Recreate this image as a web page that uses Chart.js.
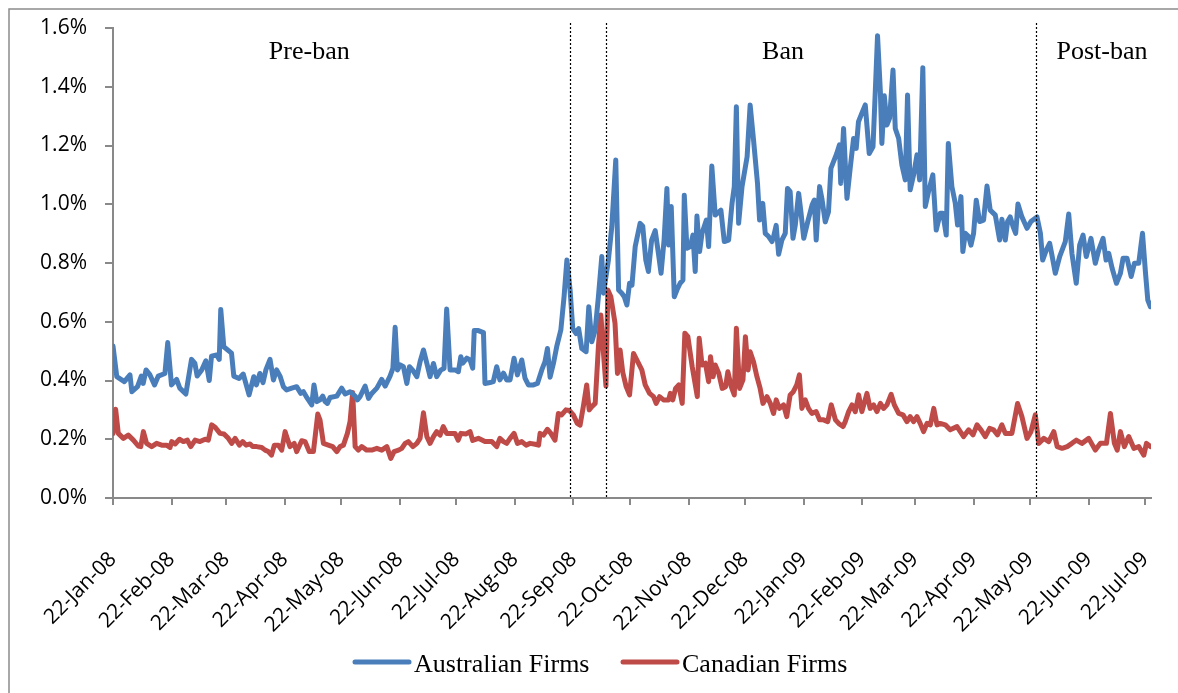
<!DOCTYPE html>
<html>
<head>
<meta charset="utf-8">
<script src="https://cdn.jsdelivr.net/npm/chart.js@4"></script>
<style>
  body { margin: 0; background: #fff; }
  #wrap { position: relative; width: 1178px; height: 693px; }
</style>
</head>
<body>
<div id="wrap"><canvas id="chartContainer" width="1178" height="693"></canvas></div>
<script>
"use strict";

// 1: data
// x values are days counted from 22-Jan-08, y values are percent
let ausDays = [0,2,6,9,10,13,15,16,17.5,19.6,22,24,27.5,29,31,33.7,35.4,38.6,41.6,43.4,44.6,47,49.2,51,52.2,54.9,56.3,57.1,58.7,62.8,64,66.8,69,72.1,74.6,76,77.8,79.5,81,
  83.2,85,86.7,88.5,90.3,92,94.7,97.3,99.5,100.9,103,105.3,106.5,108,109.7,111.1,112.4,113.6,115,118.6,121.2,123,125.6,128.3,129.5,130.9,133.6,135.4,137.1,139.8,142.4,144.2,146.8,148.3,149.5,150.7,152.2,153.9,155.7,157.1,158.9,161,162.7,164.5,166.3,168,169.8,171.5,173.7,175.4,176.8,
  178.6,181.3,183,184.3,185.3,187.5,189.2,190.6,191.4,193.6,196.3,197.1,199.8,201.5,203.3,205,206.9,208.6,210.4,212.5,214.3,216.6,218.3,220.1,222.8,224.9,227.2,228.9,230.2,231.6,233.4,235.1,237.3,239,240.5,242.2,243.6,245.4,246.7,248.4,250.7,252.1,253.7,255.5,257.2,259,
  259.9,262.5,264.3,266.4,267.9,269.6,270.9,272.3,273.7,275,276.7,279.3,280.7,282.3,283.7,285.4,287.3,289,290.4,292,293.5,294.4,295.8,297.4,298.8,300.5,302,302.7,304.1,305.9,307.3,308.5,309.4,310.8,312.1,314.4,315.6,317.3,319.1,322.1,323.9,326.2,328,329.2,330.3,331.5,333.3,336,337.6,339.4,341.5,342.6,344.3,345.6,347.4,349.2,
  350,351.4,352.7,354.4,356.2,357.4,358.8,360.3,361.5,363.3,364.5,366,368.1,370.4,371.6,372.6,374.4,375.6,377.4,379.1,380.4,382.1,383.5,384.9,385.6,387.1,388.9,390.6,392.4,393.8,395,396.8,398.6,400.7,402.7,403.9,405.1,406.6,407.4,408.7,410.1,411.5,413.3,414.5,416.3,418,419.8,421,422.4,424.2,426,427.4,429.1,430.4,432.1,434.4,436.2,
  438.3,439.7,441.5,442.6,444.5,446.3,447.5,449.3,450.3,451.6,453.4,454.6,456,457.4,459.2,461.3,463.1,464.8,467.5,469.8,471,472.8,474,475.4,476.9,478.3,479.5,481.6,484.3,486.4,489.6,491.4,492.6,494.5,496.3,497.5,499.3,501.6,504.6,506.4,508.1,510.4,512.2,514,515.7,518.2,520.5,522.3,524.6,526.2,527.6,529.4,531.7,533.8,535.2,537.3,539.5,541.2,543.5,545.5,547.1,548.3,549.7];
let ausValues = [0.517,0.413,0.396,0.419,0.362,0.379,0.415,0.390,0.436,0.419,0.385,0.415,0.424,0.529,0.385,0.404,0.374,0.354,0.472,0.458,0.415,0.436,0.467,0.400,0.483,0.487,0.472,0.642,0.515,0.493,0.415,0.407,0.422,0.351,0.413,0.385,0.424,0.393,0.436,
  0.472,0.402,0.436,0.415,0.379,0.368,0.374,0.379,0.356,0.362,0.339,0.317,0.385,0.328,0.334,0.347,0.328,0.322,0.342,0.347,0.374,0.354,0.362,0.347,0.334,0.345,0.381,0.339,0.356,0.374,0.404,0.381,0.415,0.441,0.581,0.436,0.453,0.447,0.390,0.447,0.434,0.413,0.464,0.504,0.458,0.413,0.458,0.413,0.436,0.441,0.643,
  0.436,0.436,0.430,0.481,0.459,0.476,0.470,0.442,0.570,0.570,0.563,0.390,0.393,0.396,0.447,0.402,0.425,0.402,0.402,0.476,0.419,0.470,0.408,0.385,0.385,0.390,0.436,0.464,0.509,0.411,0.459,0.515,0.572,0.685,0.810,0.708,0.577,0.560,0.577,0.509,0.498,0.651,0.532,0.572,0.685,0.822,
  0.697,0.810,0.924,1.151,0.708,0.697,0.685,0.657,0.731,0.725,0.856,0.935,0.925,0.810,0.771,0.878,0.910,0.833,0.765,0.878,1.054,0.861,0.992,0.685,0.708,0.731,0.742,1.031,0.850,0.856,0.895,0.771,0.960,0.839,0.901,0.946,0.856,1.130,0.963,0.980,0.873,0.878,1.003,1.060,1.332,0.935,1.060,1.162,1.338,1.219,1.071,0.946,1.003,0.901,0.890,0.873,
  0.889,0.928,0.830,0.878,0.901,1.054,1.043,0.884,0.928,1.037,0.974,0.884,0.940,0.997,1.014,0.878,1.060,1.020,0.940,0.974,1.122,1.150,1.173,1.202,1.071,1.258,1.020,1.122,1.224,1.190,1.281,1.310,1.338,1.173,1.196,1.383,1.574,1.383,1.207,1.369,1.270,1.293,1.457,1.258,1.224,1.134,1.083,1.372,1.049,1.100,1.168,1.083,1.465,0.992,1.043,1.100,0.912,
  0.969,0.969,0.895,1.207,1.060,1.003,0.929,1.026,0.839,0.901,0.890,0.861,0.901,1.014,0.941,0.946,1.062,0.980,0.963,0.878,0.949,0.878,0.941,0.957,0.924,0.901,1.001,0.957,0.918,0.941,0.957,0.901,0.810,0.844,0.867,0.827,0.765,0.822,0.873,0.967,0.833,0.731,0.861,0.895,0.822,0.884,0.799,0.844,0.884,0.810,0.833,0.782,0.731,0.765,0.816,0.816,0.754,0.799,0.799,0.901,0.765,0.674,0.651];

let canDays = [0,1.4,2.8,5.5,8.1,10.8,13.4,14.7,16.1,17.8,20.5,23.1,25.8,28.4,30.2,31.1,32.9,35.2,37.3,39.4,41.2,43.5,46.1,48.8,50.5,52.3,54.1,56.7,58.8,61.1,62.9,64.7,67,68.7,70.5,72.6,74,76.1,78.8,80.6,82.3,
  84,85.5,87.6,89.4,91.2,92,93.8,96,97.3,100,101.8,104,106.2,108.5,109.7,111.5,114.1,116.4,118.6,120.3,122.1,124.2,125.6,127,128.3,130,131.8,134.4,137.1,139.8,142.4,145.1,147.2,148.9,151.3,153,154.8,156.5,158.9,161,162.7,164.5,166.3,168,169.8,171.5,173.3,175,176.8,
  179.5,181.2,182.9,184.3,187.1,189.2,190.6,193.6,197.1,200.7,203.3,205,206.9,208.6,210.4,212.5,214.3,216.6,218.9,221,223.7,225.5,226.3,228.1,230.2,232,234.2,236,237.7,240,241.8,243.9,246,247.5,249.2,251,252.3,253.7,255.5,257.2,258.5,259.9,261.2,262.2,263.8,
  266,267.3,268.7,270.1,271.9,273.7,275.8,278,280.2,282,284.3,286.4,287.8,289.6,291.7,294.4,295.3,296.6,298.1,299.8,301.6,303,304.6,306.9,309.6,310.6,312.1,313.9,315.6,316.6,318,319.1,321,322.8,324.6,325.8,327.6,329.2,330.3,332,333.8,335.1,336.5,337.6,339.4,341.2,342.9,344.4,346.5,348.3,
  350,351.4,353.1,355.3,357,358.8,360.5,362.3,363.7,365,366.8,368.5,370.3,372.6,374.4,376.5,378.7,380.6,382.8,384.5,386.8,388,389.8,391.6,393.3,395.1,396.8,399.5,401.2,403,404.8,406.6,408.3,410.1,412.3,414,416.3,418.6,420.7,422.4,424.2,426,427.7,429.5,431.3,433.1,434.9,436.6,
  438.3,441,443.6,447.2,450.7,453.4,455.7,457.8,459.9,462.2,464.5,466.6,468.7,471,472.8,476.3,479.3,481.6,484.3,486.4,488.7,490.5,493.2,495.8,498.5,500.3,502.9,505.6,508.1,510.4,513.4,517,520.5,523.2,526.4,528.5,530.6,532.1,533.8,535.9,538.2,540.9,543.5,546.2,547.6,549.7];
let canValues = [0.220,0.302,0.220,0.203,0.214,0.197,0.177,0.175,0.226,0.186,0.175,0.186,0.180,0.180,0.172,0.192,0.184,0.200,0.192,0.197,0.175,0.197,0.192,0.200,0.197,0.249,0.241,0.220,0.218,0.203,0.186,0.203,0.180,0.192,0.180,0.184,0.175,0.175,0.172,0.163,0.158,
  0.146,0.180,0.180,0.163,0.226,0.209,0.175,0.186,0.158,0.195,0.192,0.158,0.158,0.286,0.265,0.186,0.180,0.175,0.158,0.175,0.180,0.220,0.260,0.359,0.175,0.163,0.175,0.163,0.163,0.169,0.163,0.175,0.135,0.158,0.163,0.169,0.186,0.192,0.175,0.186,0.203,0.290,0.209,0.186,0.209,0.226,0.214,0.243,0.220,
  0.220,0.220,0.197,0.220,0.218,0.226,0.196,0.203,0.192,0.192,0.175,0.203,0.192,0.186,0.203,0.220,0.186,0.192,0.180,0.186,0.183,0.180,0.220,0.214,0.234,0.220,0.197,0.288,0.283,0.300,0.298,0.283,0.254,0.248,0.311,0.385,0.300,0.311,0.322,0.515,0.623,0.492,0.381,0.708,0.685,
  0.595,0.424,0.504,0.428,0.379,0.351,0.492,0.464,0.436,0.385,0.356,0.345,0.322,0.345,0.334,0.334,0.356,0.334,0.373,0.385,0.322,0.561,0.549,0.447,0.345,0.544,0.453,0.459,0.396,0.481,0.413,0.453,0.424,0.373,0.379,0.430,0.379,0.351,0.578,0.373,0.402,0.549,0.436,0.498,0.464,0.413,0.373,0.322,0.345,0.322,
  0.288,0.334,0.305,0.317,0.277,0.351,0.362,0.385,0.419,0.305,0.334,0.305,0.288,0.294,0.266,0.266,0.260,0.317,0.266,0.254,0.243,0.260,0.294,0.317,0.294,0.351,0.294,0.356,0.305,0.317,0.294,0.322,0.305,0.317,0.353,0.317,0.288,0.283,0.260,0.277,0.260,0.277,0.254,0.226,0.254,0.249,0.305,0.249,
  0.254,0.249,0.232,0.243,0.209,0.232,0.215,0.249,0.232,0.209,0.237,0.232,0.215,0.249,0.220,0.220,0.322,0.277,0.203,0.226,0.283,0.186,0.203,0.192,0.226,0.175,0.169,0.175,0.186,0.197,0.186,0.203,0.163,0.186,0.186,0.288,0.186,0.163,0.226,0.175,0.209,0.169,0.175,0.146,0.186,0.175];

// tick labels on the 22nd of each month
let tickDays = [0,31,60,91,121,152,182,213,244,274,305,335,366,397,425,456,486,517,547];
let tickLabels = ['22-Jan-08','22-Feb-08','22-Mar-08','22-Apr-08','22-May-08','22-Jun-08','22-Jul-08','22-Aug-08','22-Sep-08','22-Oct-08','22-Nov-08','22-Dec-08','22-Jan-09','22-Feb-09','22-Mar-09','22-Apr-09','22-May-09','22-Jun-09','22-Jul-09'];

// period markers and their names
let banLines = [242, 261, 489];
let periodNames = ['Pre-ban', 'Ban', 'Post-ban'];
let periodCenters = [104, 355, 524];

// 2: prepare data for chart
function prepareData(days, values) {
  return days.map((d, i) => ({ x: d, y: values[i] }));
}

const axisGrey = '#898989';

// frame, dotted lines, period names and legend
const decorations = {
  id: 'decorations',
  beforeDraw(chart) {
    const ctx = chart.ctx;
    ctx.save();
    ctx.strokeStyle = '#8c8c8c';
    ctx.lineWidth = 1.5;
    ctx.beginPath();
    ctx.moveTo(9, 700);
    ctx.lineTo(9, 9);
    ctx.lineTo(1190, 9);
    ctx.stroke();
    ctx.restore();
  },
  afterDatasetsDraw(chart) {
    const ctx = chart.ctx;
    const xs = chart.scales.x;
    const area = chart.chartArea;
    ctx.save();
    ctx.strokeStyle = '#000';
    ctx.lineWidth = 1.2;
    ctx.setLineDash([2, 2]);
    banLines.forEach(d => {
      const px = Math.round(xs.getPixelForValue(d)) + 0.5;
      ctx.beginPath();
      ctx.moveTo(px, 23);
      ctx.lineTo(px, area.bottom - 1);
      ctx.stroke();
    });
    ctx.setLineDash([]);

    ctx.fillStyle = '#000';
    ctx.font = '26px "Liberation Serif"';
    ctx.textAlign = 'center';
    ctx.textBaseline = 'alphabetic';
    periodNames.forEach((name, i) => {
      ctx.fillText(name, xs.getPixelForValue(periodCenters[i]), 59);
    });

    // legend
    let lx = 355;
    ctx.textAlign = 'left';
    chart.data.datasets.forEach(ds => {
      ctx.strokeStyle = ds.borderColor;
      ctx.lineWidth = 5;
      ctx.lineCap = 'round';
      ctx.beginPath();
      ctx.moveTo(lx, 662);
      ctx.lineTo(lx + 54, 662);
      ctx.stroke();
      ctx.fillText(ds.label, lx + 59, 672);
      lx += 268;
    });
    ctx.restore();
  }
};

// 3: create and append the chart
function appendChart() {
  let chartContainer = document.getElementById('chartContainer');
  let chart = new Chart(chartContainer, {
    type: 'line',
    data: {
      datasets: [{
        label: 'Australian Firms',
        data: prepareData(ausDays, ausValues),
        borderColor: '#4A7EBB',
        borderWidth: 5
      }, {
        label: 'Canadian Firms',
        data: prepareData(canDays, canValues),
        borderColor: '#BE4B48',
        borderWidth: 5
      }]
    },
    options: {
      responsive: false,
      animation: false,
      devicePixelRatio: 1,
      layout: { padding: { top: 28, right: 27, left: 0, bottom: 0 } },
      elements: {
        point: { radius: 0 },
        line: { tension: 0, borderJoinStyle: 'round', borderCapStyle: 'round', fill: false }
      },
      plugins: {
        legend: { display: false },
        tooltip: { enabled: false }
      },
      scales: {
        x: {
          type: 'linear',
          min: 0,
          max: 550,
          afterBuildTicks: scale => { scale.ticks = tickDays.map(v => ({ value: v })); },
          afterFit: scale => {
            scale.height = 195;
            scale.paddingLeft = 0;
            scale.paddingRight = 0;
          },
          grid: { drawOnChartArea: false, tickLength: 7, color: axisGrey, lineWidth: 2 },
          border: { color: axisGrey, width: 2 },
          ticks: {
            autoSkip: false,
            minRotation: 45,
            maxRotation: 45,
            padding: 42,
            color: '#000',
            font: { family: '"Open Sans"', size: 21 },
            callback: v => tickLabels[tickDays.indexOf(v)]
          }
        },
        y: {
          min: 0,
          max: 1.6,
          afterFit: scale => {
            scale.width = 113;
            scale.paddingTop = 0;
            scale.paddingBottom = 0;
          },
          grid: { drawOnChartArea: false, tickLength: 8, color: axisGrey, lineWidth: 2 },
          border: { color: axisGrey, width: 2 },
          ticks: {
            stepSize: 0.2,
            padding: 18,
            color: '#000',
            font: { family: '"Open Sans"', size: 21 },
            callback: v => v.toFixed(1) + '%'
          }
        }
      }
    },
    plugins: [decorations]
  });
}

appendChart();
</script>
</body>
</html>
